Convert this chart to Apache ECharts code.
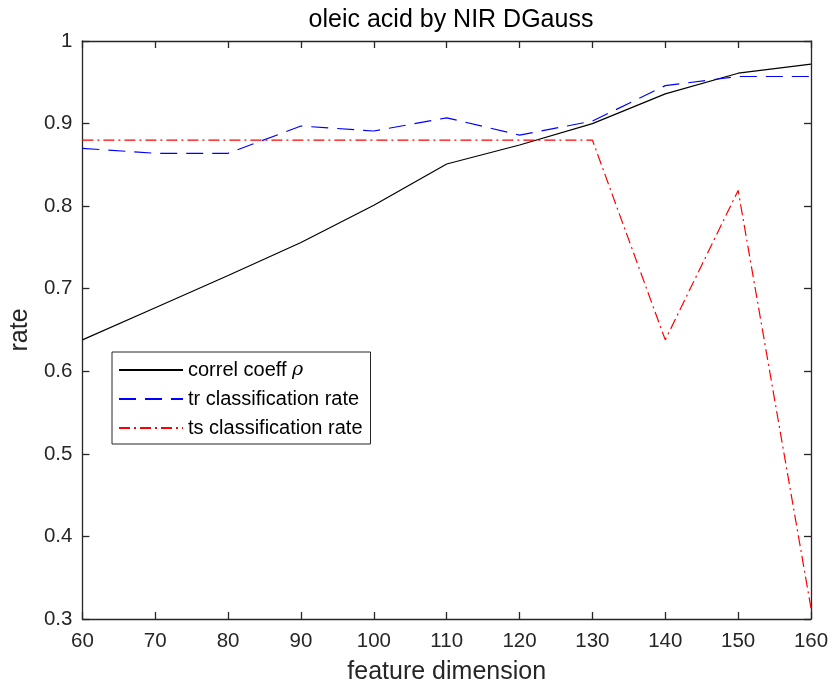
<!DOCTYPE html>
<html>
<head>
<meta charset="utf-8">
<script src="https://cdn.jsdelivr.net/npm/echarts@6/dist/echarts.min.js"></script>
<style>html,body{margin:0;padding:0;background:#fff}#c{width:832px;height:693px}</style>
</head>
<body>
<div id="c"></div>
<script>
const featureDim = [60, 70, 80, 90, 100, 110, 120, 130, 140, 150, 160];
const correlCoeff = [0.638, 0.677, 0.716, 0.756, 0.801, 0.851, 0.874, 0.900, 0.936, 0.961, 0.972];
const trRate = [0.870, 0.864, 0.864, 0.897, 0.891, 0.907, 0.886, 0.903, 0.946, 0.957, 0.957];
const tsRate = [0.880, 0.880, 0.880, 0.880, 0.880, 0.880, 0.880, 0.880, 0.638, 0.819, 0.313];
const xTicks = [60, 70, 80, 90, 100, 110, 120, 130, 140, 150, 160];
const yTicks = [0.3, 0.4, 0.5, 0.6, 0.7, 0.8, 0.9, 1];

const FONT = 'Liberation Sans, Arial, Helvetica, sans-serif';
const AX = '#262626';
const pairs = (ys) => featureDim.map((x, i) => [x, ys[i]]);

const chart = echarts.init(document.getElementById('c'));
const axisCommon = {
  axisLine: { show: true, lineStyle: { color: AX, width: 1.3 } },
  axisTick: { show: true, inside: true, length: 7, lineStyle: { color: AX, width: 1.3 } },
  splitLine: { show: false }
};
chart.setOption({
  animation: false,
  backgroundColor: '#fff',
  title: {
    text: 'oleic acid by NIR DGauss',
    left: 446, top: 3, textAlign: 'center',
    textStyle: { fontFamily: FONT, fontSize: 25, fontWeight: 'normal', color: '#000' }
  },
  grid: { left: 82, right: 21, top: 41, bottom: 74, containLabel: false },
  legend: {
    orient: 'vertical', left: 112, top: 352,
    backgroundColor: '#fff', borderColor: AX, borderWidth: 1,
    padding: [8, 8, 6, 6], itemGap: 9, itemWidth: 64, itemHeight: 14,
    itemStyle: { opacity: 0, color: 'transparent', borderWidth: 0 },
    textStyle: { fontFamily: FONT, fontSize: 20, color: '#000', lineHeight: 20,
      rich: { r: { fontFamily: 'DejaVu Serif, serif', fontStyle: 'italic', fontSize: 19 } } },
    formatter: (n) => n === 'correl coeff ρ' ? 'correl coeff {r|ρ}' : n,
    data: ['correl coeff ρ', 'tr classification rate', 'ts classification rate']
  },
  xAxis: [
    Object.assign({}, axisCommon, {
      type: 'value', min: 60, max: 160, interval: 10, position: 'bottom',
      name: 'feature dimension', nameLocation: 'middle', nameGap: 41,
      nameTextStyle: { fontFamily: FONT, fontSize: 25, color: AX },
      axisLabel: { fontFamily: FONT, fontSize: 20.5, color: AX, margin: 12,
        customValues: xTicks },
      axisTick: Object.assign({}, axisCommon.axisTick, { customValues: xTicks })
    }),
    Object.assign({}, axisCommon, {
      type: 'value', min: 60, max: 160, interval: 10, position: 'top',
      axisLabel: { show: false }
    })
  ],
  yAxis: [
    Object.assign({}, axisCommon, {
      type: 'value', min: 0.3, max: 1, interval: 0.1, position: 'left',
      name: 'rate', nameLocation: 'middle', nameGap: 47,
      nameTextStyle: { fontFamily: FONT, fontSize: 25, color: AX },
      axisLabel: { fontFamily: FONT, fontSize: 20.5, color: AX, margin: 10,
        customValues: yTicks, formatter: (v) => String(Math.round(v * 10) / 10) },
      axisTick: Object.assign({}, axisCommon.axisTick, { customValues: yTicks })
    }),
    Object.assign({}, axisCommon, {
      type: 'value', min: 0.3, max: 1, interval: 0.1, position: 'right',
      axisLabel: { show: false }
    })
  ],
  series: [
    { name: 'correl coeff ρ', type: 'line', data: pairs(correlCoeff), symbol: 'none',
      color: '#000', lineStyle: { color: '#000', width: 1.2, type: 'solid' } },
    { name: 'tr classification rate', type: 'line', data: pairs(trRate), symbol: 'none',
      color: '#0000ff', lineStyle: { color: '#0000ff', width: 1.2, type: [17, 9] } },
    { name: 'ts classification rate', type: 'line', data: pairs(tsRate), symbol: 'none',
      color: '#ff0000', lineStyle: { color: '#ff0000', width: 1.2, type: [11, 4, 2, 4] } }
  ]
});
</script>
</body>
</html>
